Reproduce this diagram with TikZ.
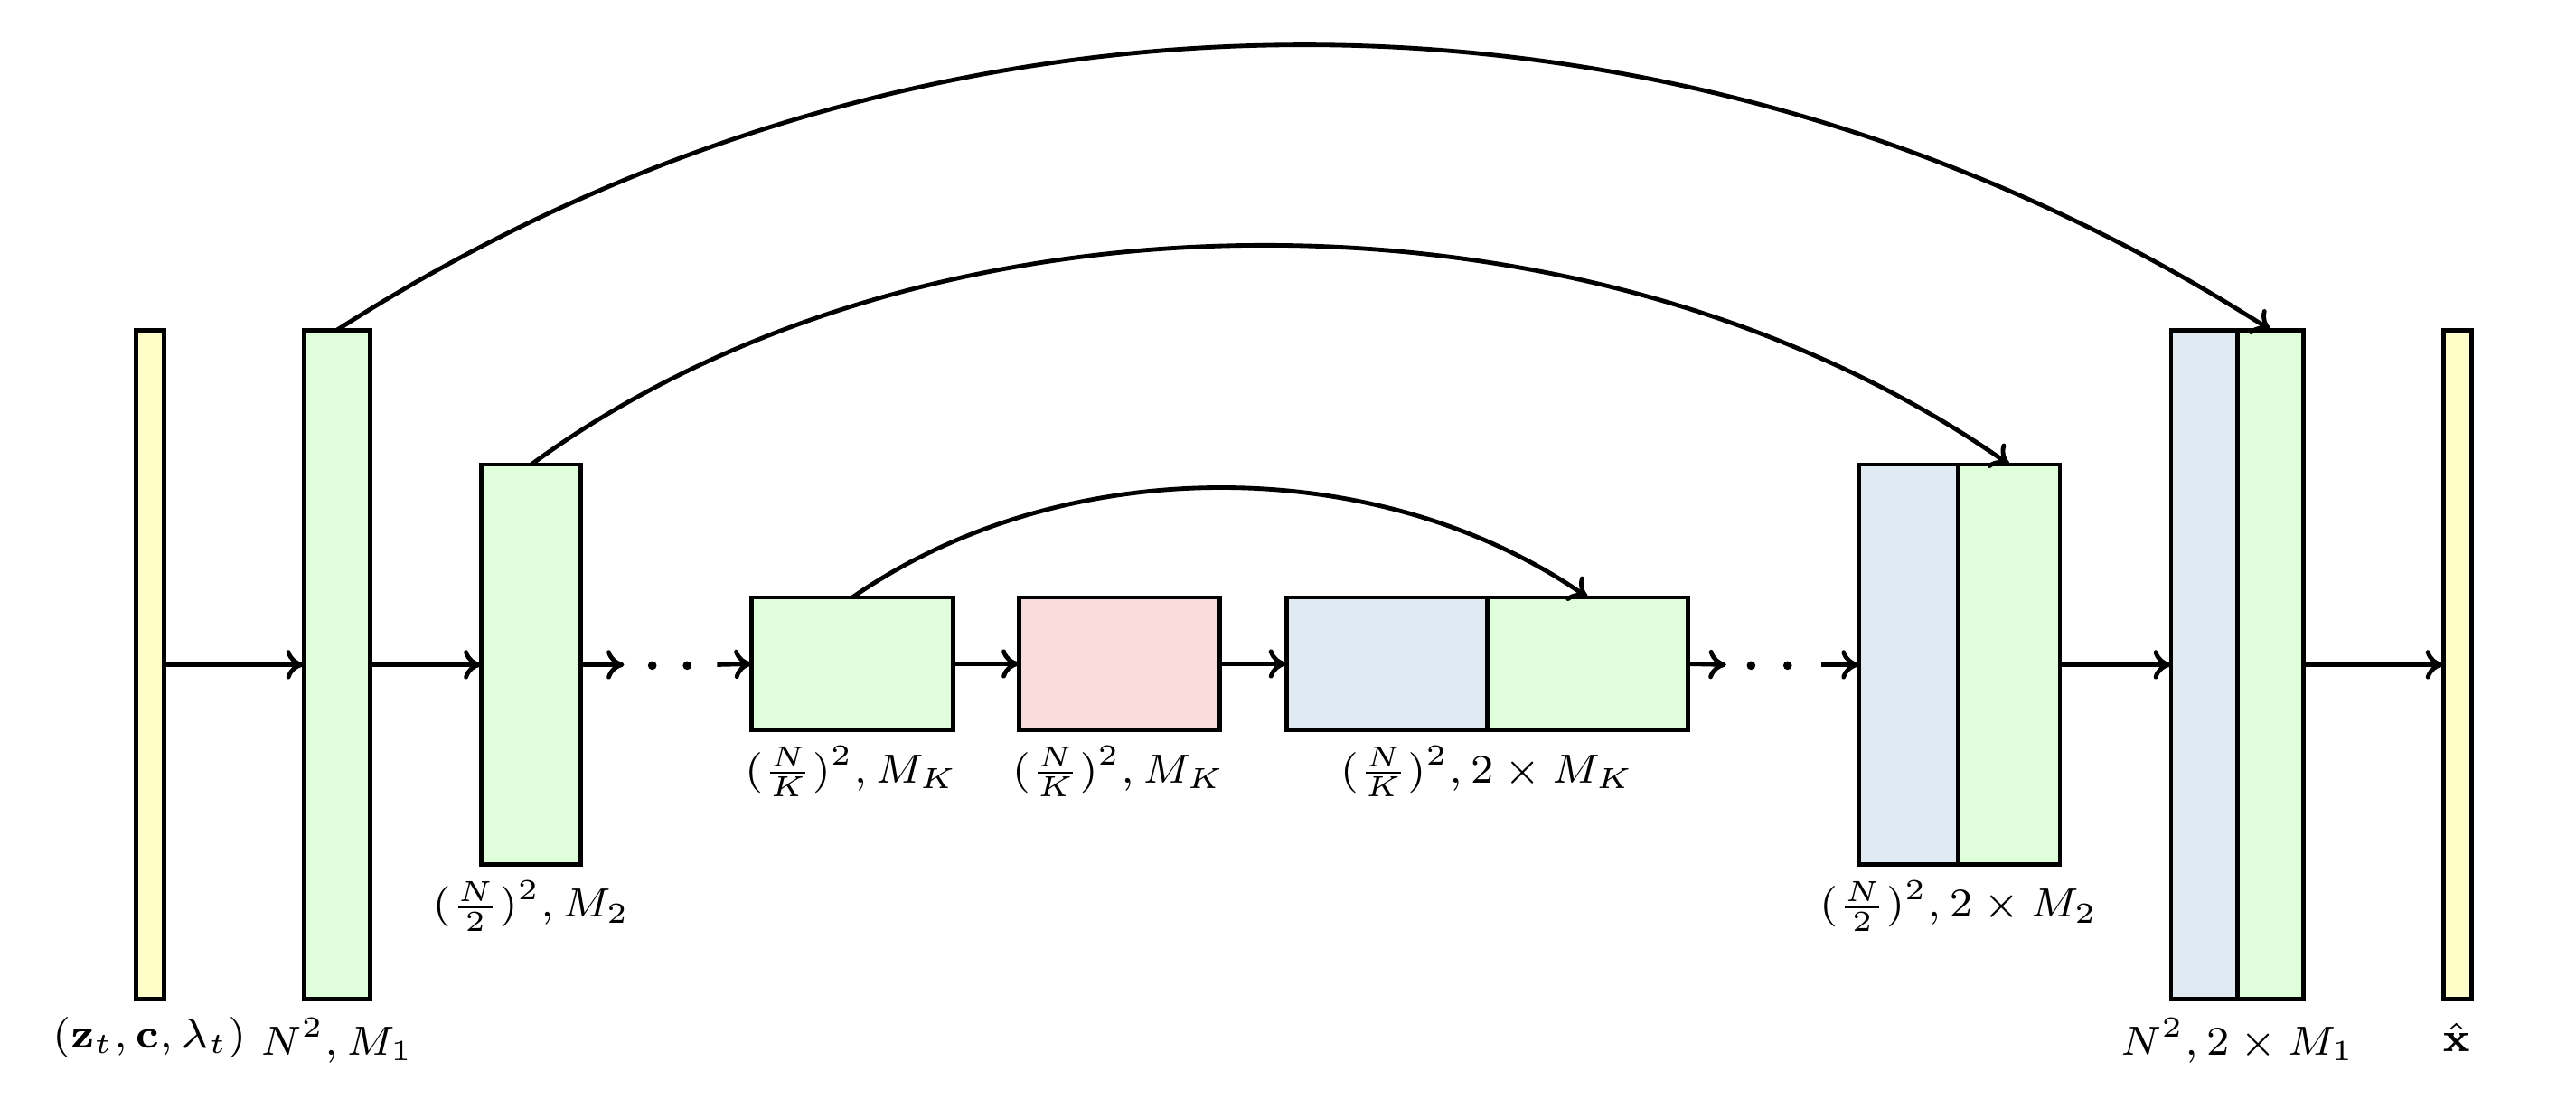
\documentclass[tikz,border=0pt]{standalone}
\usetikzlibrary{arrows.meta}
\definecolor{cy}{HTML}{FFFDC8}
\definecolor{cg}{HTML}{DFFDDA}
\definecolor{cr}{HTML}{F8DCDC}
\definecolor{cb}{HTML}{E0EAF3}
\begin{document}
\begin{tikzpicture}[x=0.01cm,y=-0.01cm,
  blk/.style={draw,line width=0.75pt,inner sep=0,outer sep=0},
  arr/.style={line width=0.75pt,-{To[length=3pt,width=5pt]}},
  lab/.style={font=\fontsize{7}{8}\selectfont,inner sep=0},
  dotc/.style={circle,fill,inner sep=0,minimum size=1.5pt}]
\useasboundingbox (0,0) rectangle (1552,662);
\node[blk,fill=cy,minimum width=0.17cm,minimum height=4.03cm] (y0) at (90.5,400.5) {};
\node[blk,fill=cg,minimum width=0.40cm,minimum height=4.03cm] (g1) at (203,400.5) {};
\node[blk,fill=cg,minimum width=0.60cm,minimum height=2.41cm] (g2) at (320,400.5) {};
\node[blk,fill=cg,minimum width=1.21cm,minimum height=0.80cm] (gk) at (513.5,400) {};
\node[blk,fill=cr,minimum width=1.21cm,minimum height=0.80cm] (rk) at (674.5,400) {};
\node[blk,fill=cb,minimum width=1.21cm,minimum height=0.80cm] (bk) at (835.5,400) {};
\node[blk,fill=cg,minimum width=1.21cm,minimum height=0.80cm] (gk2) at (956.5,400) {};
\node[blk,fill=cb,minimum width=0.60cm,minimum height=2.41cm] (b2) at (1150,400.5) {};
\node[blk,fill=cg,minimum width=0.61cm,minimum height=2.41cm] (g2b) at (1210.5,400.5) {};
\node[blk,fill=cb,minimum width=0.40cm,minimum height=4.03cm] (b1) at (1328,400.5) {};
\node[blk,fill=cg,minimum width=0.40cm,minimum height=4.03cm] (g1b) at (1368,400.5) {};
\node[blk,fill=cy,minimum width=0.17cm,minimum height=4.03cm] (y1) at (1480.5,400.5) {};
% straight arrows
\draw[arr] (y0.east) -- (g1.west);
\draw[arr] (g1.east) -- (g2.west);
\coordinate (l1) at (376,400.5); \coordinate (l2) at (432,400.5);
\draw[arr] (g2.east) -- (l1);
\node[dotc] (d1) at (393,401) {}; \node[dotc] (d2) at (414,401) {};
\draw[arr] (l2) -- (gk.west);
\draw[arr] (gk.east) -- (rk.west);
\draw[arr] (rk.east) -- (bk.west);
\coordinate (r1) at (1040,400.5); \coordinate (r2) at (1097,400.5);
\draw[arr] (gk2.east) -- (r1);
\node[dotc] (d3) at (1055,401) {}; \node[dotc] (d4) at (1077,401) {};
\draw[arr] (r2) -- (b2.west);
\draw[arr] (g2b.east) -- (b1.west);
\draw[arr] (g1b.east) -- (y1.west);
% skip arcs
\draw[arr] (g1.north) .. controls (560,-30) and (1010,-30) .. (g1b.north);
\draw[arr] (g2.north) .. controls (560,104) and (960,104) .. (g2b.north);
\draw[arr] (gk.north) .. controls (640,272) and (830,272) .. (gk2.north);
% labels
\node[lab] (t0) at (90,625) {$(\mathbf{z}_t,\mathbf{c},\lambda_t)$};
\node[lab] (t1) at (203,627) {$N^2, M_1$};
\node[lab] (t2) at (320,546) {$(\frac{N}{2})^2, M_2$};
\node[lab] (t3) at (513,465) {$(\frac{N}{K})^2, M_K$};
\node[lab] (t4) at (674,465) {$(\frac{N}{K})^2, M_K$};
\node[lab] (t5) at (896,465) {$(\frac{N}{K})^2, 2\times M_K$};
\node[lab] (t6) at (1180,546) {$(\frac{N}{2})^2, 2\times M_2$};
\node[lab] (t7) at (1348,627) {$N^2, 2\times M_1$};
\node[lab] (t8) at (1480,625) {$\hat{\mathbf{x}}$};
\end{tikzpicture}
\end{document}
